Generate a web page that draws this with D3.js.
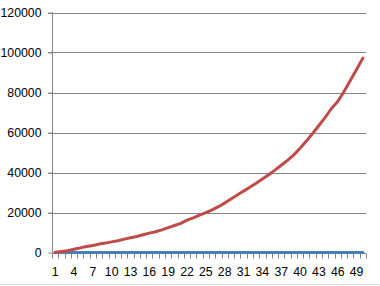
<!DOCTYPE html>
<html><head><meta charset="utf-8">
<script src="https://cdn.jsdelivr.net/npm/d3@7"></script>
<style>body{margin:0;background:#fff}svg{display:block}</style>
</head><body>
<svg id="c" width="380" height="286"></svg>
<script>
const categories = d3.range(1, 51);
const seriesRed = [100,500,900,1600,2300,3000,3500,4200,4700,5300,5900,6700,7400,8000,8900,9700,10400,11300,12400,13500,14600,16200,17300,18700,19900,21300,22900,24700,26700,28700,30700,32600,34600,36700,38900,41200,43600,46100,48800,52100,55700,59500,63500,67600,72000,75500,80500,86000,91500,97200];
const seriesBlue = categories.map(() => 0);
const yTicks = [0,20000,40000,60000,80000,100000,120000];
const xLabelEvery = 3;

(function(){
const svg = d3.select("#c");
const pL = 52, pR = 366, pT = 12.5, pB = 252.5;
const x = d3.scaleBand().domain(categories).range([pL, pR]);
const y = d3.scaleLinear().domain([0,120000]).range([pB, pT]);
const font = "'Liberation Sans', Arial, sans-serif";

svg.append("g").selectAll("line").data(yTicks.filter(d=>d>0)).join("line")
  .attr("x1", pL-4).attr("x2", pR).attr("y1", d=>Math.round(y(d))+0.5).attr("y2", d=>Math.round(y(d))+0.5)
  .attr("stroke", "#868686").attr("stroke-width", 1);

const ya = svg.append("g").attr("transform", `translate(${pL+0.5},0)`)
  .call(d3.axisLeft(y).tickValues(yTicks).tickSize(4).tickPadding(7).tickFormat(d3.format("d")));
ya.select(".domain").attr("stroke", "#868686").attr("d", `M0,${pT}V${pB}`);
ya.selectAll(".tick line").attr("stroke", "#868686");
ya.selectAll(".tick text").attr("font-family", font).attr("font-size", "12.3px").attr("fill", "#000");

const xa = svg.append("g").attr("transform", `translate(0,${Math.round(pB)+0.5})`);
xa.append("line").attr("x1", pL).attr("x2", pR).attr("stroke", "#868686");
const bounds = categories.map(c => x(c)).concat([pR]);
xa.selectAll("line.t").data(bounds).join("line").attr("class","t")
  .attr("x1", d=>Math.round(d)+0.5).attr("x2", d=>Math.round(d)+0.5).attr("y1", 0).attr("y2", 5)
  .attr("stroke", "#868686");
xa.selectAll("text").data(categories.filter((c,i)=>i%xLabelEvery===0)).join("text")
  .attr("x", d=>x(d)+x.bandwidth()/2).attr("y", 22)
  .attr("text-anchor","middle").attr("font-family", font).attr("font-size","12.3px").attr("fill","#000")
  .text(d=>d);

const line = d3.line().x((d,i)=>x(categories[i])+x.bandwidth()/2).y(d=>y(d));
svg.append("path").datum(seriesBlue).attr("d", line).attr("fill","none")
  .attr("stroke","#4A7EBB").attr("stroke-width",3).attr("stroke-linejoin","round").attr("stroke-linecap","round");
svg.append("path").datum(seriesRed).attr("d", line).attr("fill","none")
  .attr("stroke","#BE4B48").attr("stroke-width",3).attr("stroke-linejoin","round").attr("stroke-linecap","round");

svg.append("line").attr("x1",0).attr("x2",380).attr("y1",284.5).attr("y2",284.5).attr("stroke","#D9D9D9");
})();
</script>
</body></html>
